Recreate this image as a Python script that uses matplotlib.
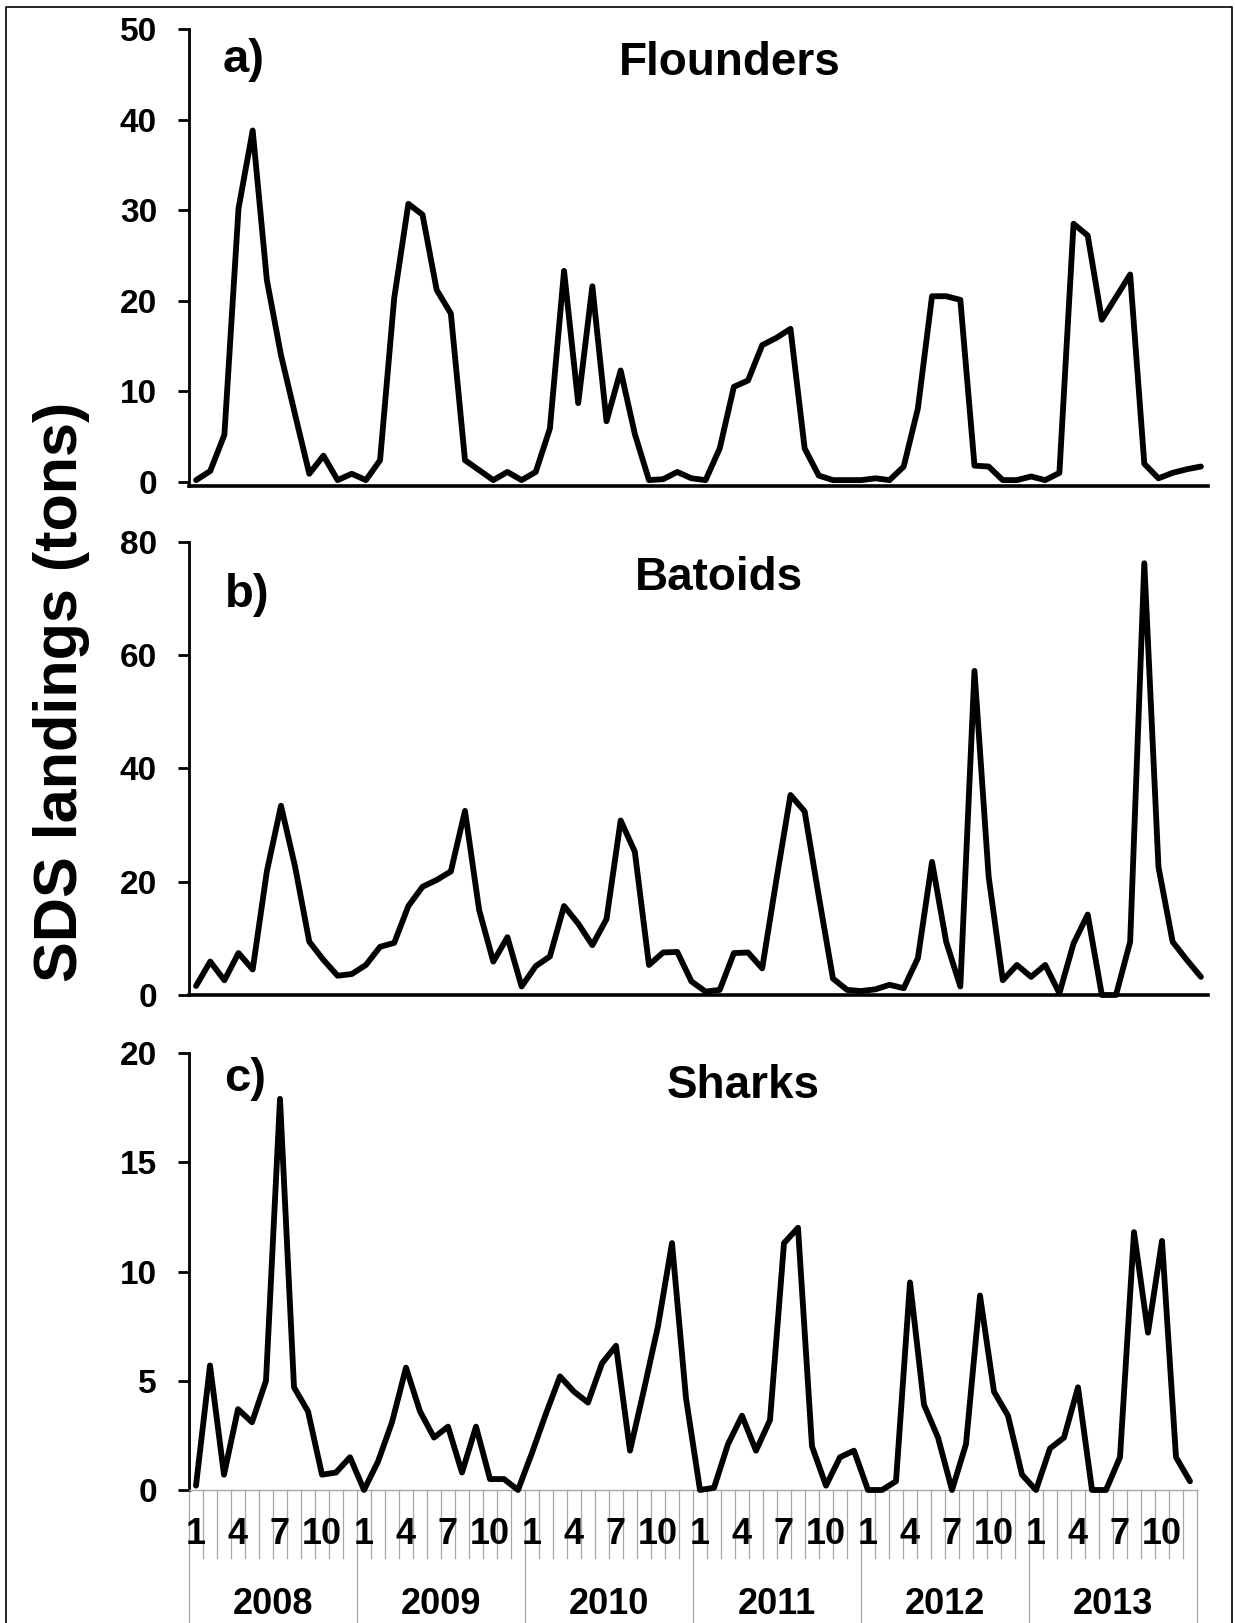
import matplotlib
matplotlib.use("Agg")
import numpy as np
import matplotlib.pyplot as plt
from matplotlib.lines import Line2D
from matplotlib.transforms import blended_transform_factory

plt.rcParams['font.family'] = ['Liberation Sans', 'DejaVu Sans']
plt.rcParams['font.weight'] = 'bold'

# monthly SDS landings (tons), Jan 2008 - Dec 2013
years = ['2008', '2009', '2010', '2011', '2012', '2013']
month_ticks = {0: '1', 3: '4', 6: '7', 9: '10'}

flounders = [
    0.2, 1.2, 5.2, 30.2, 38.8, 22.3, 14.0, 7.4, 0.9, 2.9, 0.2, 0.9,
    0.2, 2.4, 20.3, 30.7, 29.5, 21.2, 18.6, 2.4, 1.3, 0.2, 1.1, 0.2,
    1.1, 5.9, 23.3, 8.7, 21.6, 6.7, 12.3, 5.3, 0.2, 0.3, 1.1, 0.4,
    0.2, 3.7, 10.5, 11.2, 15.1, 15.9, 16.9, 3.7, 0.7, 0.2, 0.2, 0.2,
    0.4, 0.2, 1.7, 8.1, 20.5, 20.5, 20.1, 1.8, 1.7, 0.2, 0.2, 0.6,
    0.2, 1.0, 28.5, 27.2, 17.9, 20.4, 22.9, 2.0, 0.4, 1.0, 1.4, 1.7,
]
batoids = [
    1.6, 5.9, 2.6, 7.4, 4.5, 21.8, 33.4, 22.6, 9.4, 6.2, 3.4, 3.7,
    5.3, 8.5, 9.2, 15.7, 19.1, 20.3, 21.8, 32.5, 15.0, 5.9, 10.2, 1.5,
    5.1, 6.8, 15.7, 12.6, 8.8, 13.4, 30.8, 25.3, 5.3, 7.5, 7.6, 2.4,
    0.6, 0.9, 7.4, 7.5, 4.7, 20.3, 35.3, 32.4, 17.4, 2.9, 0.9, 0.7,
    1.0, 1.8, 1.2, 6.5, 23.5, 9.4, 1.5, 57.2, 20.9, 2.6, 5.3, 3.2,
    5.3, 0.3, 9.1, 14.2, 0.0, 0.0, 9.4, 76.2, 22.6, 9.4, 6.2, 3.2,
]
sharks = [
    0.2, 5.7, 0.7, 3.7, 3.1, 5.0, 17.9, 4.7, 3.6, 0.7, 0.8, 1.5,
    0.0, 1.3, 3.1, 5.6, 3.6, 2.4, 2.9, 0.8, 2.9, 0.5, 0.5, 0.0,
    1.7, 3.5, 5.2, 4.5, 4.0, 5.8, 6.6, 1.8, 4.6, 7.5, 11.3, 4.2,
    0.0, 0.1, 2.1, 3.4, 1.8, 3.2, 11.3, 12.0, 2.0, 0.2, 1.5, 1.8,
    0.0, 0.0, 0.4, 9.5, 3.9, 2.4, 0.0, 2.1, 8.9, 4.5, 3.4, 0.7,
    0.0, 1.9, 2.4, 4.7, 0.0, 0.0, 1.5, 11.8, 7.2, 11.4, 1.5, 0.4,
]

W, H = 1235, 1623
GRAY = '#a6a6a6'

fig = plt.figure(figsize=(W / 100, H / 100), dpi=100, facecolor='w')


def fx(px):
    return px / W


def fy(py):
    return 1 - py / H


def add_panel(left, right, top, bottom):
    return fig.add_axes([fx(left), fy(bottom), (right - left) / W, (bottom - top) / H])


def style_panel(ax, vals, ymin, ymax, step, bottom_color, bottom_lw):
    x = np.arange(len(vals))
    ax.plot(x, vals, color='black', lw=4.2, solid_joinstyle='round',
            solid_capstyle='round', clip_on=False, zorder=5)
    ax.set_xlim(-0.5, len(vals) - 0.5)
    ax.set_ylim(ymin, ymax)
    ax.set_yticks(np.arange(0, ymax + 0.1, step))
    ax.set_xticks([])
    for s in ['top', 'right']:
        ax.spines[s].set_visible(False)
    ax.spines['left'].set_linewidth(2.0)
    ax.spines['bottom'].set_color(bottom_color)
    ax.spines['bottom'].set_linewidth(bottom_lw)
    ax.tick_params(axis='y', direction='out', length=8, width=2.0, pad=15, labelsize=24)
    for lab in ax.get_yticklabels():
        lab.set_fontweight('bold')


ax1 = add_panel(189, 1208, 29, 486)
style_panel(ax1, flounders, -0.45, 50, 10, 'black', 2.6)

ax2 = add_panel(189, 1208, 541.7, 995)
style_panel(ax2, batoids, 0, 80, 20, 'black', 2.6)

ax3 = add_panel(189, 1197, 1053, 1490)
style_panel(ax3, sharks, 0, 20, 5, GRAY, 1.0)

# category axis of the bottom panel: month separators, month numbers, years
trans = blended_transform_factory(ax3.transData, fig.transFigure)
n = len(sharks)
for b in range(n + 1):
    y_end = 0 if b % 12 == 0 else fy(1558)
    ax3.plot([b - 0.5, b - 0.5], [fy(1490), y_end], transform=trans,
             color=GRAY, lw=0.9, clip_on=False)
for i in range(n):
    if i % 12 in month_ticks:
        ax3.text(i, fy(1535), month_ticks[i % 12], transform=trans,
                 ha='center', va='center', fontsize=26, fontweight='bold')
for k, yr in enumerate(years):
    ax3.text(12 * k + 5.5, fy(1605), yr, transform=trans,
             ha='center', va='center', fontsize=26, fontweight='bold')

# panel letters and titles
fig.text(fx(223), fy(72), 'a)', fontsize=34, fontweight='bold', va='baseline', ha='left')
fig.text(fx(730), fy(75), 'Flounders', fontsize=33, fontweight='bold', va='baseline', ha='center')
fig.text(fx(225), fy(607), 'b)', fontsize=34, fontweight='bold', va='baseline', ha='left')
fig.text(fx(719), fy(590), 'Batoids', fontsize=33, fontweight='bold', va='baseline', ha='center')
fig.text(fx(224), fy(1091), 'c)', fontsize=34, fontweight='bold', va='baseline', ha='left')
fig.text(fx(743), fy(1098), 'Sharks', fontsize=33, fontweight='bold', va='baseline', ha='center')

fig.text(fx(62), fy(692), 'SDS landings (tons)', fontsize=44, fontweight='bold',
         rotation=90, ha='center', va='center')

# outer frame (open at the bottom)
fig.add_artist(Line2D([fx(6), fx(6), fx(1232), fx(1232)], [0, fy(7), fy(7), 0],
                      color='black', lw=1.2, transform=fig.transFigure))

fig.savefig('out.png', dpi=100, facecolor='w')
